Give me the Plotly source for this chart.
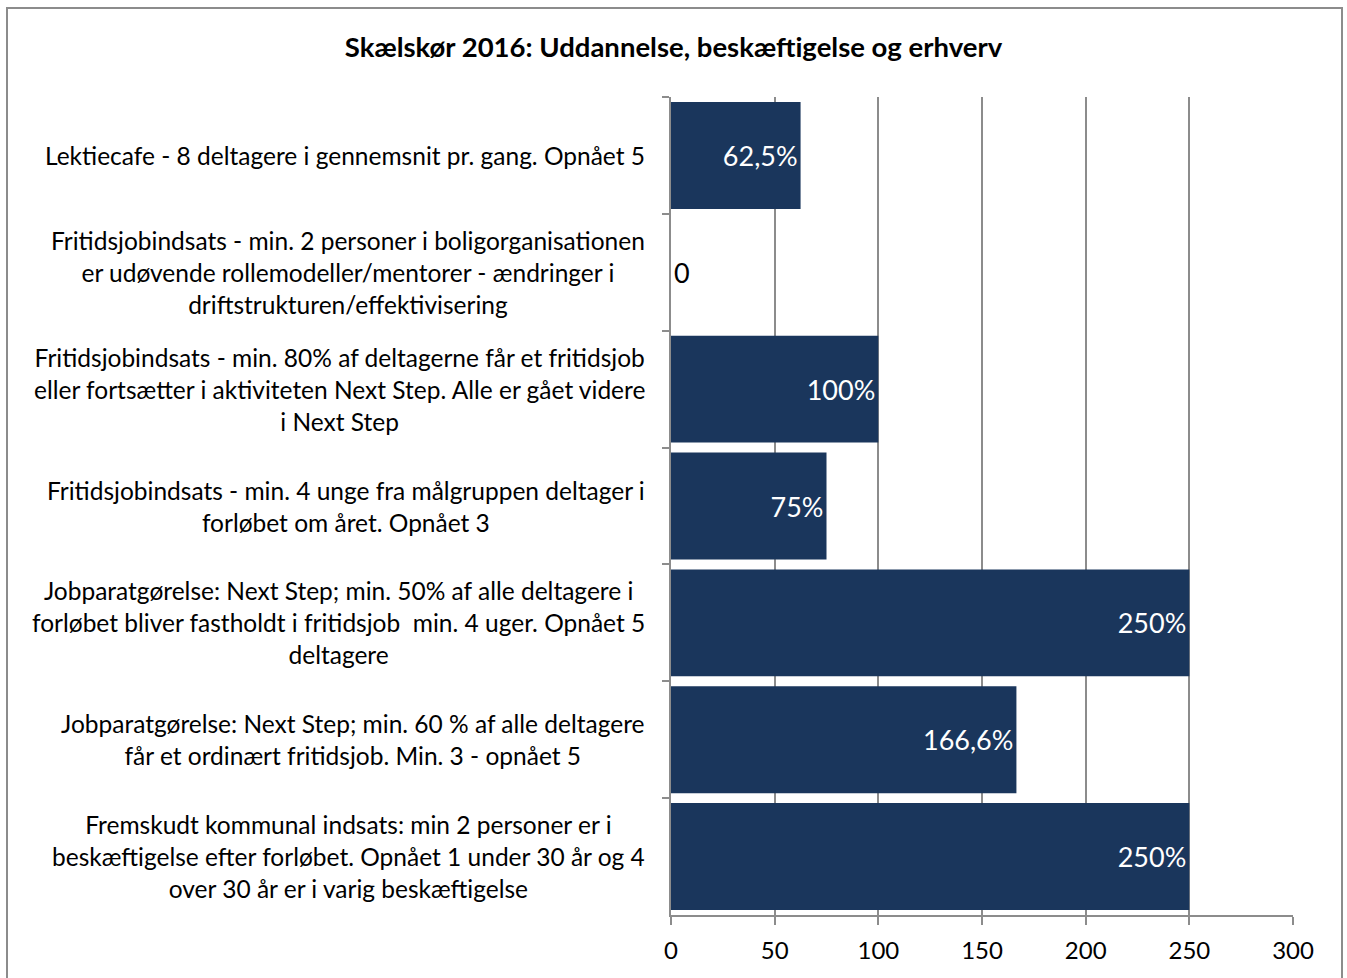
import plotly.graph_objects as go

categories = [
    "Lektiecafe - 8 deltagere i gennemsnit pr. gang. Opnået 5",
    "Fritidsjobindsats - min. 2 personer i boligorganisationen<br>er udøvende rollemodeller/mentorer - ændringer i<br>driftstrukturen/effektivisering",
    "Fritidsjobindsats - min. 80% af deltagerne får et fritidsjob<br>eller fortsætter i aktiviteten Next Step. Alle er gået videre<br>i Next Step",
    "Fritidsjobindsats - min. 4 unge fra målgruppen deltager i<br>forløbet om året. Opnået 3",
    "Jobparatgørelse: Next Step; min. 50% af alle deltagere i<br>forløbet bliver fastholdt i fritidsjob  min. 4 uger. Opnået 5<br>deltagere",
    "Jobparatgørelse: Next Step; min. 60 % af alle deltagere<br>får et ordinært fritidsjob. Min. 3 - opnået 5",
    "Fremskudt kommunal indsats: min 2 personer er i<br>beskæftigelse efter forløbet. Opnået 1 under 30 år og 4<br>over 30 år er i varig beskæftigelse",
]
values = [62.5, 0, 100, 75, 250, 166.6, 250]
value_labels = ["62,5%", "0", "100%", "75%", "250%", "166,6%", "250%"]
x_ticks = [0, 50, 100, 150, 200, 250, 300]

FONT = "Lato"
NAVY = "#1a365c"
GRID = "#8c8c8c"

fig = go.Figure(
    go.Bar(
        x=values,
        y=categories,
        orientation="h",
        marker=dict(color=NAVY, line=dict(width=0)),
        text=value_labels,
        textposition=["inside" if v > 0 else "outside" for v in values],
        insidetextanchor="end",
        insidetextfont=dict(color="white", size=27, family=FONT),
        outsidetextfont=dict(color="black", size=27, family=FONT),
        cliponaxis=False,
        hoverinfo="skip",
    )
)

# category labels as centred multi-line annotations left of the axis
for cat in categories:
    fig.add_annotation(
        x=0, xref="paper", xanchor="right", xshift=-24,
        y=cat, yref="y", yanchor="middle",
        text=cat, align="center", showarrow=False,
        font=dict(size=24.5, color="black", family=FONT),
    )

# outer chart border
fig.add_shape(
    type="rect", xref="paper", yref="paper",
    x0=(7 - 671) / 622, x1=(1342 - 671) / 622,
    y0=(915 - 990) / 818, y1=(915 - 8) / 818,
    line=dict(color=GRID, width=2), fillcolor="rgba(0,0,0,0)",
)

fig.update_layout(
    width=1347, height=978,
    margin=dict(l=671, r=54, t=97, b=63),
    paper_bgcolor="white", plot_bgcolor="white",
    bargap=0.085,
    showlegend=False,
    title=dict(
        text="<b>Skælskør 2016: Uddannelse, beskæftigelse og erhverv</b>",
        x=0.5, xanchor="center", y=1 - 47 / 978, yanchor="middle",
        font=dict(size=27.5, color="black", family=FONT),
    ),
    font=dict(family=FONT, color="black"),
)
fig.update_xaxes(
    range=[0, 300], tickvals=x_ticks, showgrid=True, gridcolor=GRID, gridwidth=1.5,
    showline=True, linecolor=GRID, linewidth=1.5,
    ticks="outside", ticklen=8, tickcolor=GRID, tickwidth=1.5,
    tickfont=dict(size=24, family=FONT, color="black"), zeroline=False,
    ticklabelstandoff=5,
)
fig.update_yaxes(
    autorange="reversed", showticklabels=False, showgrid=False,
    showline=True, linecolor=GRID, linewidth=1.5,
    ticks="outside", tickson="boundaries", ticklen=7, tickcolor=GRID, tickwidth=1.5,
)

fig.write_html(
    "out.html",
    config={"displayModeBar": False},
    post_script="document.body.style.margin='0';",
)
